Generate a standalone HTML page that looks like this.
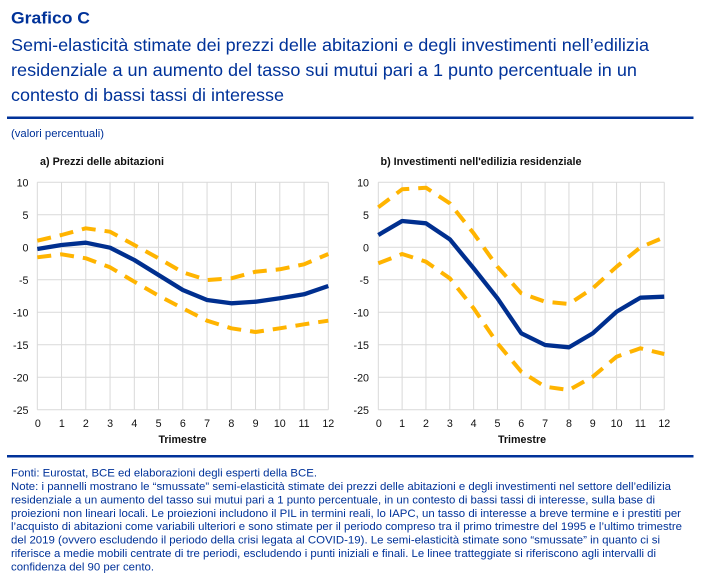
<!DOCTYPE html>
<html><head><meta charset="utf-8"><style>
html,body{margin:0;padding:0;background:#fff;}
svg{display:block;}
text{font-family:"Liberation Sans",Arial,sans-serif;}
</style></head><body>
<svg width="702" height="586" viewBox="0 0 702 586" xmlns="http://www.w3.org/2000/svg">
<rect width="702" height="586" fill="#fff"/>
<!-- Header -->
<g fill="#003299">
<text x="11" y="23.5" font-size="17" font-weight="bold" textLength="79" lengthAdjust="spacingAndGlyphs">Grafico C</text>
<text x="11" y="51" font-size="17.5" textLength="638" lengthAdjust="spacingAndGlyphs">Semi-elasticità stimate dei prezzi delle abitazioni e degli investimenti nell’edilizia</text>
<text x="11" y="76" font-size="17.5" textLength="626" lengthAdjust="spacingAndGlyphs">residenziale a un aumento del tasso sui mutui pari a 1 punto percentuale in un</text>
<text x="11" y="101" font-size="17.5" textLength="273" lengthAdjust="spacingAndGlyphs">contesto di bassi tassi di interesse</text>
</g>
<rect x="7" y="116.5" width="686.5" height="2.5" fill="#003299"/>
<text x="11" y="137" font-size="11" fill="#003299" textLength="93" lengthAdjust="spacingAndGlyphs">(valori percentuali)</text>

<!-- Panel titles -->
<text x="40" y="165" font-size="10.7" font-weight="bold" fill="#111" textLength="124" lengthAdjust="spacingAndGlyphs">a) Prezzi delle abitazioni</text>
<text x="380.5" y="165" font-size="10.7" font-weight="bold" fill="#111" textLength="201" lengthAdjust="spacingAndGlyphs">b) Investimenti nell'edilizia residenziale</text>

<!-- Left chart grid -->
<g stroke="#d9d9d9" stroke-width="1" fill="none">
<path d="M37.3 182.3H328.3M37.3 214.8H328.3M37.3 247.3H328.3M37.3 279.8H328.3M37.3 312.3H328.3M37.3 344.8H328.3M37.3 377.3H328.3M37.3 409.8H328.3"/>
<path d="M37.3 182.3V409.8M61.55 182.3V409.8M85.8 182.3V409.8M110.05 182.3V409.8M134.3 182.3V409.8M158.55 182.3V409.8M182.8 182.3V409.8M207.05 182.3V409.8M231.3 182.3V409.8M255.55 182.3V409.8M279.8 182.3V409.8M304.05 182.3V409.8M328.3 182.3V409.8"/>
</g>
<!-- Right chart grid -->
<g stroke="#d9d9d9" stroke-width="1" fill="none">
<path d="M378.3 182.3H664.3M378.3 214.8H664.3M378.3 247.3H664.3M378.3 279.8H664.3M378.3 312.3H664.3M378.3 344.8H664.3M378.3 377.3H664.3M378.3 409.8H664.3"/>
<path d="M378.3 182.3V409.8M402.13 182.3V409.8M425.96 182.3V409.8M449.79 182.3V409.8M473.62 182.3V409.8M497.45 182.3V409.8M521.28 182.3V409.8M545.11 182.3V409.8M568.94 182.3V409.8M592.77 182.3V409.8M616.6 182.3V409.8M640.43 182.3V409.8M664.26 182.3V409.8"/>
</g>

<!-- Y labels left -->
<g font-size="10.7" fill="#111" text-anchor="end">
<text x="28.5" y="186.3">10</text>
<text x="28.5" y="218.8">5</text>
<text x="28.5" y="251.3">0</text>
<text x="28.5" y="283.8">-5</text>
<text x="28.5" y="316.3">-10</text>
<text x="28.5" y="348.8">-15</text>
<text x="28.5" y="381.3">-20</text>
<text x="28.5" y="413.8">-25</text>
</g>
<!-- Y labels right -->
<g font-size="10.7" fill="#111" text-anchor="end">
<text x="369" y="186.3">10</text>
<text x="369" y="218.8">5</text>
<text x="369" y="251.3">0</text>
<text x="369" y="283.8">-5</text>
<text x="369" y="316.3">-10</text>
<text x="369" y="348.8">-15</text>
<text x="369" y="381.3">-20</text>
<text x="369" y="413.8">-25</text>
</g>
<!-- X labels left -->
<g font-size="10.7" fill="#111" text-anchor="middle">
<text x="37.8" y="427">0</text><text x="61.8" y="427">1</text><text x="85.8" y="427">2</text><text x="110.05" y="427">3</text><text x="134.3" y="427">4</text><text x="158.55" y="427">5</text><text x="182.8" y="427">6</text><text x="207.05" y="427">7</text><text x="231.3" y="427">8</text><text x="255.55" y="427">9</text><text x="279.8" y="427">10</text><text x="304.05" y="427">11</text><text x="328.3" y="427">12</text>
</g>
<!-- X labels right -->
<g font-size="10.7" fill="#111" text-anchor="middle">
<text x="378.8" y="427">0</text><text x="402.13" y="427">1</text><text x="425.96" y="427">2</text><text x="449.79" y="427">3</text><text x="473.62" y="427">4</text><text x="497.45" y="427">5</text><text x="521.28" y="427">6</text><text x="545.11" y="427">7</text><text x="568.94" y="427">8</text><text x="592.77" y="427">9</text><text x="616.6" y="427">10</text><text x="640.43" y="427">11</text><text x="664.26" y="427">12</text>
</g>
<text x="182.5" y="443" font-size="10.7" font-weight="bold" fill="#111" text-anchor="middle">Trimestre</text>
<text x="522" y="443" font-size="10.7" font-weight="bold" fill="#111" text-anchor="middle">Trimestre</text>

<!-- Left series -->
<g fill="none" stroke-width="4" stroke-linejoin="round">
<polyline stroke="#FFB400" stroke-dasharray="14,9" points="37.3,240.7 61.55,235 85.8,228.3 110.05,231.7 134.3,245 158.55,258.3 182.8,272.3 207.05,280 231.3,278.3 255.55,271.7 279.8,269.3 304.05,264.3 328.3,254"/>
<polyline stroke="#FFB400" stroke-dasharray="14,9" points="37.3,257.3 61.55,254.3 85.8,258.3 110.05,267.3 134.3,281.7 158.55,295.7 182.8,308.3 207.05,320.7 231.3,328.3 255.55,332 279.8,328.3 304.05,324.3 328.3,320.7"/>
<polyline stroke="#002f8f" stroke-width="4.3" points="37.3,249 61.55,245 85.8,242.7 110.05,247.7 134.3,260 158.55,275 182.8,290 207.05,300 231.3,303.3 255.55,301.7 279.8,298.3 304.05,294.3 328.3,286"/>
</g>
<!-- Right series -->
<g fill="none" stroke-width="4" stroke-linejoin="round">
<polyline stroke="#FFB400" stroke-dasharray="14,9" points="378.3,207.3 402.13,189.3 425.96,187.7 449.79,203.3 473.62,233.3 497.45,266.7 521.28,293.3 545.11,301.7 568.94,304 592.77,288.3 616.6,266.7 640.43,247.3 664.26,237.3"/>
<polyline stroke="#FFB400" stroke-dasharray="14,9" points="378.3,263.3 402.13,254 425.96,261.7 449.79,278.3 473.62,308.3 497.45,343.3 521.28,371.7 545.11,386.7 568.94,390 592.77,376.7 616.6,356.7 640.43,348.3 664.26,354"/>
<polyline stroke="#002f8f" stroke-width="4.3" points="378.3,235 402.13,221 425.96,223.3 449.79,239.3 473.62,268.3 497.45,298.3 521.28,333.3 545.11,345 568.94,347.3 592.77,333.3 616.6,311.7 640.43,297.7 664.26,296.7"/>
</g>

<!-- Bottom rule -->
<rect x="7" y="455" width="686.5" height="2.5" fill="#003299"/>

<!-- Footnotes -->
<g fill="#003299" font-size="11">
<text x="11" y="476.5" textLength="306" lengthAdjust="spacingAndGlyphs">Fonti: Eurostat, BCE ed elaborazioni degli esperti della BCE.</text>
<text x="11" y="490" textLength="660" lengthAdjust="spacingAndGlyphs">Note: i pannelli mostrano le “smussate” semi-elasticità stimate dei prezzi delle abitazioni e degli investimenti nel settore dell’edilizia</text>
<text x="11" y="503.4" textLength="644" lengthAdjust="spacingAndGlyphs">residenziale a un aumento del tasso sui mutui pari a 1 punto percentuale, in un contesto di bassi tassi di interesse, sulla base di</text>
<text x="11" y="516.8" textLength="670" lengthAdjust="spacingAndGlyphs">proiezioni non lineari locali. Le proiezioni includono il PIL in termini reali, lo IAPC, un tasso di interesse a breve termine e i prestiti per</text>
<text x="11" y="530.2" textLength="671" lengthAdjust="spacingAndGlyphs">l’acquisto di abitazioni come variabili ulteriori e sono stimate per il periodo compreso tra il primo trimestre del 1995 e l’ultimo trimestre</text>
<text x="11" y="543.6" textLength="649" lengthAdjust="spacingAndGlyphs">del 2019 (ovvero escludendo il periodo della crisi legata al COVID-19). Le semi-elasticità stimate sono “smussate” in quanto ci si</text>
<text x="11" y="557" textLength="645" lengthAdjust="spacingAndGlyphs">riferisce a medie mobili centrate di tre periodi, escludendo i punti iniziali e finali. Le linee tratteggiate si riferiscono agli intervalli di</text>
<text x="11" y="570.4" textLength="143" lengthAdjust="spacingAndGlyphs">confidenza del 90 per cento.</text>
</g>
</svg>
</body></html>
